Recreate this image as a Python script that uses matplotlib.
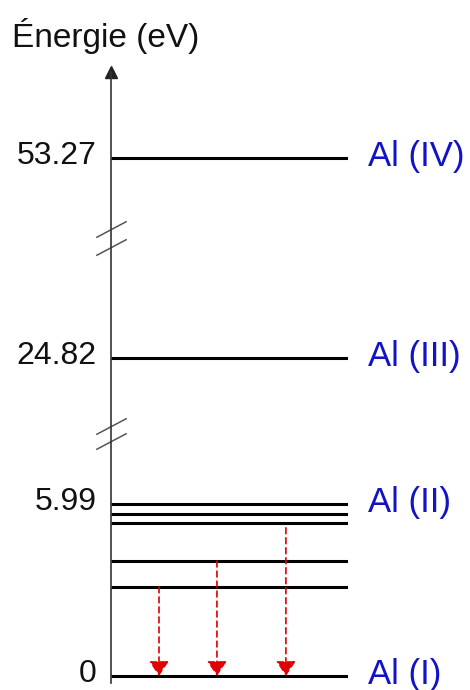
"""Diagramme de niveaux d'énergie de l'aluminium (axe coupé)."""

import matplotlib

matplotlib.use("Agg")
import matplotlib.pyplot as plt
import numpy as np

plt.rcParams["font.family"] = ["Liberation Sans", "DejaVu Sans"]

# Données (eV)
levels = [0.0, 3.10, 4.00, 5.33, 5.64, 5.99, 24.82, 53.27]
tick_values = [0.0, 5.99, 24.82, 53.27]
tick_labels = ["0", "5.99", "24.82", "53.27"]
ion_values = [0.0, 5.99, 24.82, 53.27]
ion_labels = ["Al (I)", "Al (II)", "Al (III)", "Al (IV)"]
arrow_start = [3.10, 4.00, 5.16]
arrow_end = [0.0, 0.0, 0.0]
arrow_x = [0.2025, 0.447, 0.738]  # position horizontale (fraction de l'axe)
break_values = [14.1, 16.0, 40.6, 43.1]

# Échelle par morceaux : énergie -> hauteur (px au-dessus du niveau 0)
E_knots = np.array([-5.0, 0.0, 5.99, 24.82, 53.27, 80.0])
H_knots = np.array([-143.6, 0.0, 172.0, 318.0, 518.0, 705.9])


def forward(e):
    return np.interp(e, E_knots, H_knots)


def inverse(h):
    return np.interp(h, H_knots, E_knots)


W, H = 470, 690
fig = plt.figure(figsize=(W / 100, H / 100), dpi=100)
ax = fig.add_axes([111 / W, 1 - 683 / H, 237 / W, 611 / H])
ax.set_yscale("function", functions=(forward, inverse))
ax.set_xlim(0, 1)
ax.set_ylim(inverse(-7), inverse(604))

ax.hlines(levels, 0, 1, color="black", linewidth=2.2)

for x, e0, e1 in zip(arrow_x, arrow_start, arrow_end):
    ax.annotate("", xy=(x, e1), xytext=(x, e0),
                arrowprops=dict(arrowstyle="-|>,head_length=0.6,head_width=0.4",
                                mutation_scale=15, color="#e00000", lw=1.2,
                                linestyle=(0, (3.5, 2.5)), shrinkA=0, shrinkB=0))

# Marques de coupure de l'axe
ax.plot([0] * len(break_values), break_values, linestyle="none",
        marker=[(-1, -0.53), (1, 0.53)], markersize=22, markeredgewidth=1.1,
        color="#555555", clip_on=False)

for v, lab in zip(tick_values, tick_labels):
    ax.annotate(lab, xy=(0, v), xycoords=("axes fraction", "data"),
                xytext=(-10.5, -4.3), textcoords="offset points",
                ha="right", va="baseline", fontsize=23, color="#111111")

for v, lab in zip(ion_values, ion_labels):
    ax.annotate(lab, xy=(1, v), xycoords=("axes fraction", "data"),
                xytext=(14.5, -6), textcoords="offset points",
                ha="left", va="baseline", fontsize=25, color="#1212c8")

for s in ["top", "right", "bottom"]:
    ax.spines[s].set_visible(False)
ax.spines["left"].set_color("#333333")
ax.spines["left"].set_linewidth(1.2)
ax.set_xticks([])
ax.set_yticks([])
ax.minorticks_off()
ax.plot([0], [1], marker="^", markersize=8, color="#222222",
        transform=ax.transAxes, clip_on=False)

fig.text(12 / W, 1 - 47 / H, "Énergie (eV)", fontsize=24, va="baseline",
         ha="left", color="#111111")

fig.savefig("out.png", dpi=100)
plt.close(fig)
